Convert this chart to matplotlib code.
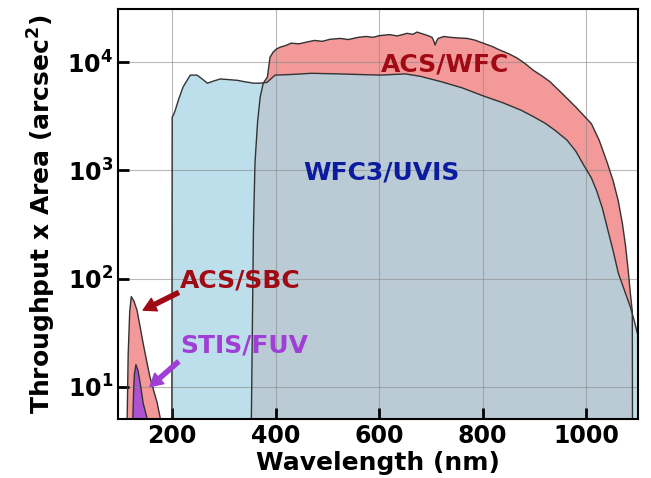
import numpy as np
import matplotlib
matplotlib.use("Agg")
import matplotlib.pyplot as plt
from matplotlib.ticker import FixedLocator, FixedFormatter, NullLocator

# WFC3/UVIS throughput x area
wfc3_wl = [199, 200, 203, 206, 212, 221, 235, 248, 258, 268, 280, 293, 310, 326, 340,
           357, 370, 383, 392, 399, 430, 469, 520, 560, 604, 650, 680, 720, 760, 800,
           840, 874, 900, 922, 942, 963, 980, 996, 1010, 1020, 1031, 1041, 1052, 1062,
           1075, 1085, 1092, 1099, 1110]
wfc3_val = [0.1, 3100, 3300, 3600, 4460, 5900, 7600, 7600, 7000, 6400, 6700, 7000, 6900,
            6800, 6600, 6400, 6400, 6500, 7100, 7600, 7700, 7900, 7800, 7700, 7600, 7800,
            7400, 6600, 5800, 4900, 4200, 3600, 3100, 2700, 2300, 1900, 1500, 1100, 850,
            650, 450, 290, 180, 112, 75, 55, 42, 31, 20]

# ACS/WFC
acswfc_wl = [350, 353, 357, 360, 365, 370, 376, 384, 389, 395, 402, 409, 418, 430, 445,
             461, 475, 490, 505, 525, 540, 560, 575, 588, 600, 620, 635, 654, 665, 673,
             685, 693, 702, 706, 708, 711, 714, 725, 737, 750, 770, 785, 801, 818, 834,
             850, 867, 882, 898, 914, 930, 956, 981, 1010, 1025, 1040, 1052, 1062, 1070,
             1076, 1081, 1085, 1089, 1090]
acswfc_val = [0.1, 5, 280, 1170, 2800, 4750, 6400, 7300, 11100, 12400, 13300, 13800,
              14200, 15000, 14800, 15400, 15900, 15600, 16300, 16600, 16200, 17000, 17300,
              17000, 17600, 18000, 17500, 18500, 18100, 19000, 18200, 17700, 17000, 15500,
              14400, 15800, 16600, 17300, 17000, 16800, 16600, 16000, 15000, 14000, 12900,
              12000, 10900, 9700, 8400, 7500, 6600, 5000, 3800, 2700, 1900, 1200, 800, 520,
              320, 200, 120, 75, 50, 0.1]

# ACS/SBC
sbc_wl = [112, 113, 115, 118, 121, 126, 132, 138, 144, 151, 157, 164, 171, 177, 182]
sbc_val = [0.1, 5, 20, 50, 68, 62, 51, 36, 25, 17, 12.3, 9.3, 7.1, 5.1, 3]

# STIS/FUV
stis_wl = [123, 124, 125.5, 127, 130, 134, 138, 144, 152, 158]
stis_val = [0.1, 5, 9, 13, 16, 14, 10.9, 7, 5, 3]

xticks = [200, 400, 600, 800, 1000]
xtick_labels = ['200', '400', '600', '800', '1000']
yticks = [10, 100, 1000, 10000]
ytick_labels = [r'$\mathbf{10^{1}}$', r'$\mathbf{10^{2}}$', r'$\mathbf{10^{3}}$', r'$\mathbf{10^{4}}$']

pink = '#f08080'
blue = '#add8e6'
purple = '#a64bd8'
red_txt = '#a00a14'
purple_txt = '#a03ed6'
blue_txt = '#0b1d9e'
edge = '#333333'

plt.rcParams['font.family'] = ['DejaVu Sans']
plt.rcParams['font.weight'] = 'bold'

fig, ax = plt.subplots(figsize=(6.51, 4.78), dpi=100)
fig.subplots_adjust(left=0.181, right=0.980, bottom=0.123, top=0.981)

ax.set_yscale('log')
base = 0.1
ax.fill_between(acswfc_wl, base, acswfc_val, facecolor=pink, alpha=0.8, lw=0)
ax.fill_between(wfc3_wl, base, wfc3_val, facecolor=blue, alpha=0.8, lw=0)
ax.fill_between(sbc_wl, base, sbc_val, facecolor=pink, alpha=0.8, lw=0)
ax.fill_between(stis_wl, base, stis_val, facecolor=purple, alpha=0.9, lw=0)

# outlines on top so they show through the overlapping fills
for wl, val in [(acswfc_wl, acswfc_val), (wfc3_wl, wfc3_val), (sbc_wl, sbc_val), (stis_wl, stis_val)]:
    ax.plot(wl, val, color=edge, lw=1.0, zorder=3)

ax.set_xlim(95, 1100)
ax.set_ylim(5, 3.1e4)

ax.xaxis.set_major_locator(FixedLocator(xticks))
ax.xaxis.set_major_formatter(FixedFormatter(xtick_labels))
ax.yaxis.set_major_locator(FixedLocator(yticks))
ax.yaxis.set_major_formatter(FixedFormatter(ytick_labels))
ax.yaxis.set_minor_locator(NullLocator())
ax.xaxis.set_minor_locator(NullLocator())

ax.tick_params(which='major', direction='in', length=8, width=2, labelsize=17,
               top=False, right=False)
ax.grid(True, color='#8a8a8a', lw=0.8, alpha=0.6)
for s in ax.spines.values():
    s.set_linewidth(1.5)
    s.set_zorder(5)

ax.set_xlabel('Wavelength (nm)', fontsize=18, fontweight='bold', labelpad=2)
ax.set_ylabel(r'Throughput x Area (arcsec$^\mathbf{2}$)', fontsize=18, fontweight='bold', labelpad=7)

ax.text(727, 9600, 'ACS/WFC', color=red_txt, fontsize=18, fontweight='bold', ha='center', va='center', zorder=6)
ax.text(604, 960, 'WFC3/UVIS', color=blue_txt, fontsize=18, fontweight='bold', ha='center', va='center', zorder=6)

ax.text(215, 96, 'ACS/SBC', color=red_txt, fontsize=18, fontweight='bold', ha='left', va='center', zorder=6)
ax.text(215, 24, 'STIS/FUV', color=purple_txt, fontsize=18, fontweight='bold', ha='left', va='center', zorder=6)

arrow_kw = dict(width=3, headwidth=10, headlength=9, shrink=0.0)
ax.annotate('', xy=(144, 51), xytext=(212, 74),
            arrowprops=dict(facecolor=red_txt, edgecolor=red_txt, **arrow_kw))
ax.annotate('', xy=(157, 10), xytext=(212, 17),
            arrowprops=dict(facecolor=purple_txt, edgecolor=purple_txt, **arrow_kw))

fig.savefig('out.png', dpi=100)
